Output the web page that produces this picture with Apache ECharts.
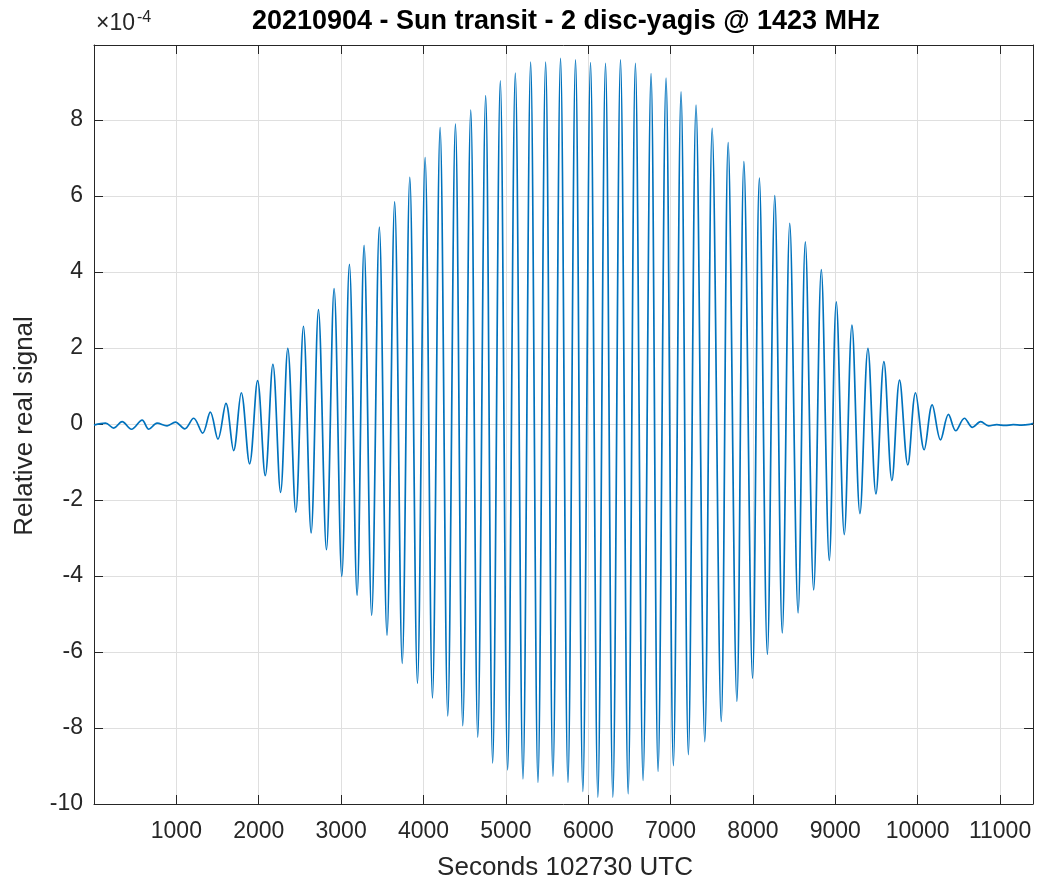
<!DOCTYPE html>
<html>
<head>
<meta charset="utf-8">
<script src="https://cdn.jsdelivr.net/npm/echarts@6/dist/echarts.min.js"></script>
<style>html,body{margin:0;padding:0;background:#fff}#c{width:1038px;height:884px}</style>
</head>
<body>
<div id="c"></div>
<script>
const titleText = '20210904 - Sun transit - 2 disc-yagis @ 1423 MHz';
const xAxisName = 'Seconds 102730 UTC';
const yAxisName = 'Relative real signal';
const yExponent = '-4';
const xTickValues = [1000, 2000, 3000, 4000, 5000, 6000, 7000, 8000, 9000, 10000, 11000];
const yTickValues = [-10, -8, -6, -4, -2, 0, 2, 4, 6, 8];

// time (s) of each turning point of the trace
const timeSec = [
  0, 140, 240, 341, 455, 584, 665, 766, 887, 988, 1101,
  1210, 1319, 1412, 1505, 1602, 1695, 1788, 1889, 1986, 2079,
  2172, 2265, 2353, 2450, 2543, 2636, 2725, 2822, 2915, 3008,
  3101, 3194, 3279, 3371, 3464, 3557, 3650, 3742, 3834, 3927,
  4020, 4109, 4202, 4295, 4388, 4477, 4574, 4659, 4755, 4840,
  4933, 5022, 5115, 5208, 5301, 5390, 5483, 5572, 5664, 5754,
  5846, 5935, 6028, 6117, 6210, 6299, 6392, 6485, 6573, 6666,
  6763, 6848, 6945, 7034, 7127, 7216, 7309, 7415, 7505, 7615,
  7699, 7805, 7890, 7995, 8078, 8175, 8265, 8356, 8447, 8548,
  8636, 8737, 8830, 8927, 9012, 9109, 9202, 9299, 9396, 9493,
  9590, 9687, 9780, 9880, 9974, 10079, 10176, 10277, 10374, 10462,
  10568, 10665, 10765, 10860, 10960, 11060, 11160, 11260, 11360, 11400
];
// relative real signal, in units of 1e-4
const signal = [
  -0.03, 0.02, -0.11, 0.06, -0.14, 0.10, -0.14, 0.02, -0.05, 0.05, -0.13,
  0.15, -0.24, 0.31, -0.40, 0.54, -0.70, 0.82, -1.05, 1.14, -1.36,
  1.57, -1.80, 1.99, -2.32, 2.57, -2.87, 3.01, -3.31, 3.56, -4.01,
  4.20, -4.51, 4.70, -5.04, 5.18, -5.56, 5.84, -6.30, 6.49, -6.82,
  7.01, -7.21, 7.80, -7.68, 7.89, -7.94, 8.26, -8.24, 8.64, -8.92,
  9.03, -9.10, 9.23, -9.34, 9.52, -9.43, 9.52, -9.27, 9.62, -9.43,
  9.58, -9.67, 9.51, -9.82, 9.49, -9.82, 9.58, -9.73, 9.49, -9.38,
  9.22, -9.14, 9.10, -8.99, 8.74, -8.70, 8.39, -8.36, 7.78, -7.83,
  7.40, -7.30, 6.90, -6.69, 6.47, -6.06, 6.01, -5.50, 5.28, -4.97,
  4.79, -4.37, 4.06, -3.59, 3.21, -2.91, 2.60, -2.36, 1.99, -1.84,
  1.64, -1.49, 1.15, -1.08, 0.82, -0.68, 0.50, -0.42, 0.25, -0.18,
  0.15, -0.09, 0.06, -0.05, -0.02, -0.04, -0.02, -0.03, -0.01, 0.02
];

const seriesData = timeSec.map((t, i) => [t, signal[i]]);
const axisColor = '#262626';
const fontFam = '"Liberation Sans", Arial, Helvetica, sans-serif';

const chart = echarts.init(document.getElementById('c'), null, {renderer: 'canvas'});

function axisBase(extra) {
  return Object.assign({
    type: 'value',
    axisLine: {show: true, onZero: false, lineStyle: {color: axisColor, width: 1}},
    axisTick: {show: true, inside: true, length: 9, lineStyle: {color: axisColor, width: 1}},
    splitLine: {show: false},
    axisLabel: {show: false}
  }, extra);
}

const option = {
  animation: false,
  backgroundColor: '#ffffff',
  grid: {left: 94, right: 5, top: 45, bottom: 80, containLabel: false},
  xAxis: [
    axisBase({
      min: 0, max: 11400, interval: 1000, position: 'bottom',
      axisLabel: {show: true, margin: 16, color: axisColor, fontSize: 23, fontFamily: fontFam,
        formatter: v => xTickValues.includes(v) ? String(v) : ''},
      splitLine: {show: true, lineStyle: {color: '#dfdfdf', width: 1}}
    }),
    axisBase({min: 0, max: 11400, interval: 1000, position: 'top'})
  ],
  yAxis: [
    axisBase({
      min: -10, max: 9.97, interval: 2, position: 'left',
      axisLabel: {show: true, margin: 11, color: axisColor, fontSize: 23, fontFamily: fontFam,
        formatter: v => yTickValues.includes(v) ? String(v) : ''},
      splitLine: {show: true, lineStyle: {color: '#dfdfdf', width: 1}}
    }),
    axisBase({min: -10, max: 9.97, interval: 2, position: 'right'})
  ],
  series: [{
    type: 'line',
    xAxisIndex: 0,
    yAxisIndex: 0,
    data: seriesData,
    showSymbol: false,
    symbol: 'none',
    smooth: 0.35,
    clip: true,
    lineStyle: {color: '#0072BD', width: 1.7}
  }],
  graphic: [
    {type: 'text', x: 566, y: 22, style: {text: titleText, fill: '#000', fontSize: 27, fontWeight: 'bold', fontFamily: fontFam, align: 'center', verticalAlign: 'middle'}},
    {type: 'text', x: 565, y: 868, style: {text: xAxisName, fill: axisColor, fontSize: 26, fontFamily: fontFam, align: 'center', verticalAlign: 'middle'}},
    {type: 'text', x: 25, y: 426, rotation: Math.PI / 2, style: {text: yAxisName, fill: axisColor, fontSize: 26, fontFamily: fontFam, align: 'center', verticalAlign: 'middle'}},
    {type: 'text', x: 96, y: 24, style: {text: '\u00d710', fill: axisColor, fontSize: 23, fontFamily: fontFam, align: 'left', verticalAlign: 'middle'}},
    {type: 'text', x: 137, y: 18, style: {text: yExponent, fill: axisColor, fontSize: 16, fontFamily: fontFam, align: 'left', verticalAlign: 'middle'}}
  ]
};
chart.setOption(option);
</script>
</body>
</html>
